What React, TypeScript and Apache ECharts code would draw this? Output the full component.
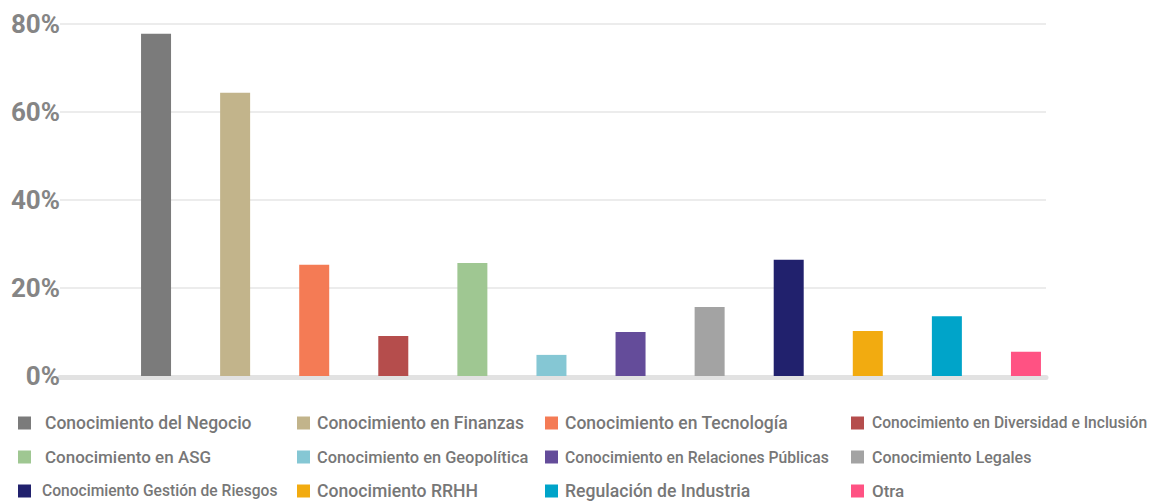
import React, { useEffect, useRef } from "react";
import * as echarts from "echarts";

const categories = [
  "Conocimiento del Negocio",
  "Conocimiento en Finanzas",
  "Conocimiento en Tecnología",
  "Conocimiento en Diversidad e Inclusión",
  "Conocimiento en ASG",
  "Conocimiento en Geopolítica",
  "Conocimiento en Relaciones Públicas",
  "Conocimiento Legales",
  "Conocimiento Gestión de Riesgos",
  "Conocimiento RRHH",
  "Regulación de Industria",
  "Otra",
];
const values = [77.8, 64.4, 25.3, 9.1, 25.7, 4.8, 10.0, 15.7, 26.4, 10.2, 13.6, 5.5];
const colors = [
  "#7b7b7b", "#c2b48b", "#f47b55", "#b54d4c", "#9fc792", "#85c7d4",
  "#644c9a", "#a3a3a3", "#21216d", "#f2ab10", "#00a4c9", "#ff5283",
];
const yTicks = [0, 20, 40, 60, 80];

const legendLeft = [18, 297, 545, 851];
const legendPad = [9, 2, 2, 3];
const legendFont = [17.5, 17.5, 17.5, 15.6, 17, 16.4, 15.7, 16, 15.6, 17.6, 17.6, 17];

export default function App() {
  const ref = useRef<HTMLDivElement>(null);
  useEffect(() => {
    if (!ref.current) return;
    const chart = echarts.init(ref.current, undefined, { renderer: "svg" });
    const series = categories.map((name, i) => ({
      name,
      type: "bar",
      xAxisIndex: 1,
      yAxisIndex: 1,
      barWidth: 30,
      barGap: "-100%",
      itemStyle: { color: colors[i] },
      z: 3,
      data: values.map((v, j) => (j === i ? v : "-")),
    }));
    const legends = [0, 1, 2, 3].map((c) => ({
      orient: "vertical",
      left: legendLeft[c],
      top: 414,
      height: 90,
      padding: 0,
      itemWidth: 13,
      itemHeight: 13,
      itemGap: 16,
      icon: "rect",
      selectedMode: false,
      data: [c, c + 4, c + 8].map((k) => ({
        name: categories[k],
        textStyle: {
          fontSize: legendFont[k],
          padding: [0, 0, 0, k === 8 ? 6 : legendPad[c]],
        },
      })),
      textStyle: {
        color: "#777777",
        fontFamily: "Roboto",
        fontWeight: 500,
        fontSize: 16,
        lineHeight: 18,
        padding: [0, 0, 0, legendPad[c]],
      },
    }));
    chart.setOption({
      animation: false,
      backgroundColor: "#ffffff",
      grid: [
        { left: 60, right: 111, top: 24, bottom: 128 },
        { left: 116.5, right: 91.5, top: 24, bottom: 128 },
      ],
      legend: legends,
      xAxis: [
        {
          type: "value",
          gridIndex: 0,
          min: 0,
          max: 1,
          axisLine: { show: true, onZero: false, lineStyle: { color: "#e2e2e2", width: 5 } },
          axisTick: { show: false },
          axisLabel: { show: false },
          splitLine: { show: false },
          offset: 1,
        },
        {
          type: "category",
          gridIndex: 1,
          data: categories,
          axisLine: { show: false },
          axisTick: { show: false },
          axisLabel: { show: false },
          splitLine: { show: false },
        },
      ],
      yAxis: [
        {
          type: "value",
          gridIndex: 0,
          min: 0,
          max: 80,
          interval: 20,
          axisLine: { show: false },
          axisTick: { show: false },
          axisLabel: {
            margin: 0,
            color: "#858585",
            fontFamily: "Roboto",
            fontWeight: "bold",
            fontSize: 26,
            formatter: (v: number) => (yTicks.includes(v) ? `${v}%` : ""),
          },
          splitLine: { lineStyle: { color: "#e6e6e6", width: 1.5 } },
        },
        {
          type: "value",
          gridIndex: 1,
          min: 0,
          max: 80,
          show: false,
          splitLine: { show: false },
        },
      ],
      series,
    });
    return () => chart.dispose();
  }, []);
  return (
    <div
      ref={ref}
      style={{ position: "fixed", left: 0, top: 0, width: 1157, height: 504 }}
    />
  );
}
